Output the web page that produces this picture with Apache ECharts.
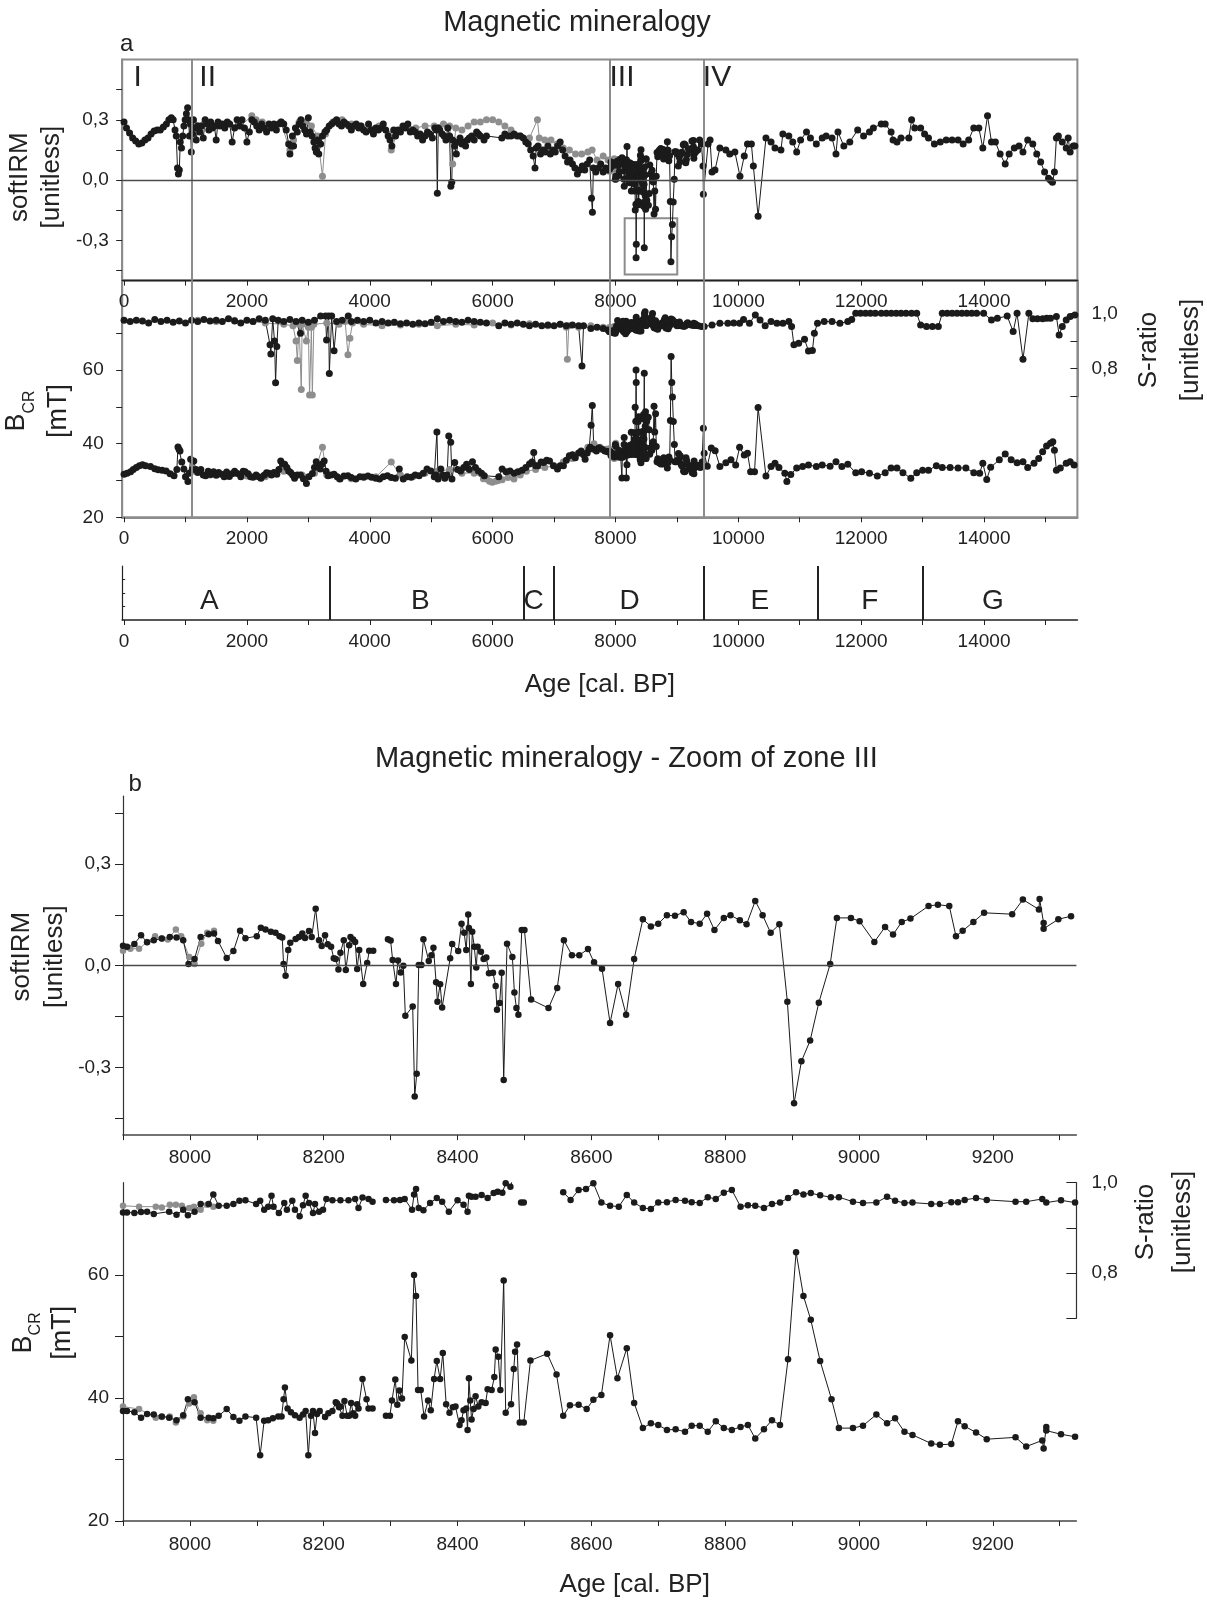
<!DOCTYPE html>
<html><head><meta charset="utf-8">
<script src="https://cdn.jsdelivr.net/npm/echarts@6/dist/echarts.min.js"></script>
<style>html,body{margin:0;padding:0;background:#fff}#c{width:1207px;height:1600px}</style>
</head><body><div id="c"></div>
<script>
// ---------------- DATA ----------------
// Panel a: softIRM (0 - 7900 cal BP), black and gray cores
const softA_black = [[0,0.29],[40,0.26],[90,0.235],[140,0.21],[190,0.195],[240,0.18],[290,0.185],[340,0.2],[390,0.21],[440,0.23],[490,0.245],[540,0.25],[590,0.25],[640,0.265],[690,0.28],[730,0.3],[770,0.31],[800,0.3],[830,0.25],[850,0.22],[870,0.06],[885,0.03],[900,0.05],[915,0.19],[935,0.16],[955,0.22],[975,0.27],[995,0.3],[1015,0.33],[1035,0.36],[1050,0.3],[1065,0.22],[1080,0.28],[1095,0.14],[1110,0.23],[1130,0.3],[1150,0.26],[1175,0.2],[1200,0.27],[1230,0.24],[1260,0.27],[1290,0.21],[1320,0.3],[1350,0.28],[1380,0.25],[1410,0.29],[1440,0.26],[1470,0.27],[1500,0.2],[1530,0.29],[1560,0.27],[1600,0.28],[1640,0.26],[1680,0.29],[1720,0.28],[1760,0.19],[1800,0.26],[1840,0.3],[1880,0.27],[1920,0.3],[1960,0.26],[2000,0.19],[2040,0.24],[2080,0.3],[2120,0.29],[2160,0.27],[2200,0.25],[2240,0.28],[2280,0.26],[2320,0.24],[2360,0.28],[2400,0.26],[2440,0.28],[2480,0.25],[2520,0.28],[2560,0.29],[2600,0.28],[2640,0.25],[2680,0.18],[2700,0.13],[2720,0.17],[2740,0.22],[2760,0.17],[2790,0.26],[2820,0.24],[2850,0.28],[2880,0.3],[2910,0.27],[2940,0.25],[2970,0.23],[3000,0.31],[3030,0.24],[3060,0.22],[3090,0.19],[3110,0.16],[3130,0.14],[3150,0.2],[3170,0.13],[3200,0.18],[3230,0.22],[3270,0.24],[3300,0.25],[3340,0.27],[3380,0.28],[3420,0.29],[3460,0.3],[3500,0.28],[3540,0.27],[3580,0.29],[3620,0.28],[3660,0.27],[3700,0.25],[3740,0.27],[3780,0.28],[3820,0.26],[3860,0.27],[3900,0.25],[3940,0.24],[3980,0.28],[4020,0.25],[4060,0.23],[4100,0.26],[4140,0.25],[4180,0.26],[4220,0.28],[4260,0.25],[4300,0.22],[4330,0.2],[4360,0.17],[4390,0.25],[4420,0.22],[4460,0.25],[4500,0.24],[4540,0.27],[4580,0.26],[4620,0.28],[4660,0.24],[4700,0.25],[4740,0.24],[4780,0.22],[4820,0.23],[4860,0.2],[4900,0.22],[4940,0.24],[4980,0.23],[5020,0.21],[5060,0.26],[5085,0.25],[5100,-0.065],[5115,0.26],[5140,0.25],[5180,0.23],[5210,0.22],[5240,0.2],[5270,0.26],[5300,0.22],[5320,-0.03],[5335,-0.01],[5350,0.2],[5380,0.17],[5410,0.13],[5440,0.19],[5470,0.21],[5500,0.18],[5530,0.19],[5560,0.17],[5590,0.2],[5620,0.21],[5660,0.22],[5700,0.2],[5740,0.24],[5770,0.23],[5800,0.22],[5860,0.2],[5900,0.22],[6150,0.21],[6200,0.23],[6250,0.22],[6300,0.22],[6350,0.23],[6400,0.22],[6450,0.22],[6500,0.21],[6540,0.19],[6580,0.18],[6620,0.15],[6660,0.12],[6690,0.06],[6710,0.16],[6740,0.17],[6780,0.13],[6820,0.15],[6860,0.14],[6900,0.17],[6940,0.13],[6980,0.15],[7020,0.14],[7060,0.17],[7100,0.19],[7140,0.15],[7180,0.12],[7220,0.09],[7260,0.1],[7300,0.08],[7340,0.06],[7380,0.03],[7420,0.05],[7460,0.07],[7500,0.05],[7540,0.08],[7580,0.1],[7610,-0.09],[7625,-0.16],[7640,0.06],[7680,0.04],[7720,0.06],[7760,0.08],[7800,0.04],[7840,0.06],[7880,0.05]];
const softA_gray = [[1130,0.29],[1300,0.28],[1500,0.27],[1700,0.28],[1900,0.27],[2080,0.32],[2150,0.3],[2250,0.29],[2400,0.27],[2550,0.29],[2700,0.15],[2760,0.2],[2850,0.29],[2950,0.29],[3050,0.27],[3150,0.22],[3230,0.02],[3280,0.23],[3400,0.29],[3550,0.3],[3700,0.28],[3850,0.27],[4000,0.26],[4150,0.27],[4300,0.23],[4350,0.15],[4450,0.24],[4600,0.27],[4750,0.26],[4900,0.27],[5050,0.27],[5200,0.28],[5300,0.27],[5350,0.08],[5400,0.26],[5500,0.25],[5600,0.27],[5700,0.29],[5800,0.29],[5900,0.3],[6000,0.3],[6100,0.29],[6200,0.27],[6300,0.25],[6450,0.22],[6600,0.21],[6730,0.3],[6760,0.21],[6850,0.2],[6950,0.2],[7050,0.18],[7150,0.16],[7250,0.15],[7350,0.13],[7450,0.13],[7550,0.14],[7620,0.15],[7700,0.1],[7800,0.12],[7880,0.1]];
// Panel a: softIRM after zone III (9325 - 15500)
const softA_late = [[9340,0.15],[9370,0.2],[9400,0.18],[9425,0.07],[9431,-0.07],[9508,0.18],[9540,0.2],[9572,0.04],[9620,0.05],[9700,0.16],[9797,0.15],[9860,0.13],[9944,0.14],[10027,0.02],[10097,0.12],[10149,0.18],[10213,0.18],[10245,0.07],[10322,-0.18],[10450,0.21],[10533,0.19],[10597,0.16],[10694,0.15],[10725,0.23],[10822,0.22],[10886,0.19],[10950,0.14],[11014,0.2],[11110,0.24],[11174,0.21],[11270,0.18],[11366,0.21],[11430,0.22],[11526,0.21],[11590,0.13],[11622,0.24],[11718,0.17],[11815,0.19],[11943,0.25],[12039,0.22],[12135,0.24],[12199,0.26],[12327,0.28],[12391,0.28],[12487,0.24],[12519,0.2],[12583,0.19],[12648,0.21],[12776,0.21],[12821,0.3],[12872,0.26],[12968,0.26],[13032,0.23],[13096,0.21],[13192,0.18],[13288,0.19],[13384,0.2],[13480,0.2],[13577,0.2],[13660,0.18],[13750,0.2],[13833,0.26],[13916,0.26],[13980,0.16],[14057,0.32],[14121,0.19],[14185,0.19],[14262,0.13],[14345,0.08],[14409,0.13],[14493,0.16],[14570,0.17],[14634,0.14],[14711,0.2],[14794,0.18],[14858,0.13],[14922,0.09],[14986,0.04],[15050,0.01],[15082,0],[15114,-0.01],[15146,0.04],[15178,0.21],[15210,0.22],[15274,0.19],[15338,0.16],[15370,0.21],[15402,0.14],[15453,0.17],[15479,0.17]];

// Panel a: B_CR [mT]
const bcrA_black = [[0,31.7],[50,32],[107,32.4],[150,33],[200,33.5],[250,34],[300,34.3],[350,34],[430,33.8],[500,33.2],[556,32.9],[620,32.8],[685,32.6],[750,31.8],[814,31.3],[860,33],[878,39.1],[895,38.5],[911,38],[940,35],[974,33.1],[1000,31],[1040,29.7],[1060,32],[1084,35.8],[1110,33],[1135,35.3],[1170,33],[1200,32.2],[1250,33],[1290,31.5],[1328,31.3],[1370,32.5],[1410,31.6],[1457,32.4],[1500,31.4],[1540,32.2],[1586,31.7],[1630,31],[1670,32.3],[1714,31.1],[1760,31.8],[1800,32.5],[1843,31.9],[1900,31],[1940,32.5],[1972,32.4],[2020,31.8],[2060,31],[2100,30.9],[2150,31.5],[2190,31],[2229,30.6],[2280,31.4],[2320,32.1],[2358,32],[2400,31.5],[2440,32.2],[2487,31.7],[2520,33],[2551,35.3],[2580,34.5],[2615,34.4],[2650,33.5],[2680,32.6],[2712,32.2],[2745,31.5],[2776,30.6],[2820,31.5],[2872,31.5],[2920,30.5],[2969,29.2],[3010,31],[3065,31.9],[3100,33.5],[3129,35.1],[3160,33.8],[3194,33.1],[3225,34.5],[3258,35.3],[3290,32.5],[3323,31.3],[3370,31.5],[3419,31.7],[3470,31],[3516,30.4],[3580,31.2],[3645,31.3],[3700,30.8],[3773,30.4],[3840,31],[3902,30.9],[3970,31.2],[4031,30.9],[4100,30.6],[4160,30.4],[4220,31],[4288,31.3],[4350,30.8],[4417,30.6],[4481,33.1],[4546,30.4],[4610,31],[4674,30.9],[4740,31.5],[4803,31.3],[4870,32],[4932,33.1],[4996,32.6],[5050,31],[5080,31.5],[5093,43.2],[5112,30.4],[5157,33.1],[5190,31.5],[5222,30.6],[5260,31.5],[5286,42.1],[5318,40.4],[5338,30.4],[5383,34.9],[5430,33],[5479,32.6],[5530,33.5],[5576,34.4],[5620,33],[5672,35.1],[5720,33.5],[5769,32.6],[5820,32],[5865,31.3],[6100,31],[6155,33.1],[6220,32.4],[6283,32.6],[6350,32],[6412,32.4],[6480,32.8],[6541,33.5],[6600,34.5],[6640,35],[6670,37.6],[6700,34],[6734,34],[6790,35],[6831,34.9],[6880,35.5],[6927,35.3],[6990,34],[7056,33.1],[7100,34],[7153,34],[7200,35.5],[7249,36.7],[7300,37],[7346,36.2],[7400,37.5],[7442,38],[7480,37],[7506,35.8],[7540,37.5],[7571,38.5],[7590,39],[7603,45],[7623,50.4],[7648,38.5],[7690,38],[7732,38.9],[7780,38.5],[7828,38],[7870,37.8]];
const bcrA_gray = [[1150,32.5],[1400,31.5],[1700,31.5],[2000,31.2],[2300,31],[2600,32.5],[2900,31.5],[3100,32],[3230,39],[3300,31.5],[3500,30.5],[3700,30.5],[3900,31],[4100,31],[4350,35],[4500,31.5],[4700,31],[4900,32],[5100,32.5],[5300,33],[5500,32],[5700,32],[5850,30.5],[5900,30.4],[5950,29.8],[5994,29.5],[6050,29.8],[6090,30],[6155,30.2],[6250,30.8],[6348,30.4],[6450,31.5],[6550,32.5],[6700,33],[6850,33.5],[7000,34],[7150,35],[7300,36],[7450,37.5],[7550,39],[7650,40],[7750,39],[7850,38.5]];
const bcrA_late = [[9340,34],[9380,33.5],[9410,35],[9431,44.2],[9444,37.4],[9495,33.9],[9560,38.8],[9623,38.1],[9700,33.8],[9797,34.8],[9880,35.6],[9957,34.2],[10021,39],[10097,36.9],[10149,37.4],[10200,32.4],[10264,32.4],[10322,49.8],[10450,31.2],[10533,33.8],[10597,34.7],[10661,33.5],[10757,32],[10790,29.7],[10854,31.6],[10950,33.4],[11046,33.8],[11142,34.2],[11270,33.8],[11366,34.2],[11494,33.9],[11590,35.1],[11686,33.8],[11782,34.4],[11911,32.1],[12007,32.4],[12135,32],[12263,31.2],[12391,32.1],[12487,33.4],[12583,33.4],[12680,32.1],[12808,30.6],[12904,32.1],[13000,32.8],[13096,32.8],[13224,34],[13320,33.5],[13448,33.5],[13577,33.4],[13705,33.4],[13833,32.1],[13929,32],[13980,34.7],[14044,30.3],[14108,33.6],[14249,35.6],[14345,37.2],[14442,35.6],[14538,34.8],[14634,35.1],[14711,33.5],[14813,34.7],[14890,36],[14954,37.8],[15018,39.4],[15082,40.1],[15120,40.5],[15146,38.2],[15178,32.8],[15242,33.4],[15338,34.7],[15402,35.1],[15466,34.2]];

// Panel a: S-ratio
const sA_black = [[0,0.975],[100,0.97],[200,0.975],[300,0.972],[400,0.965],[500,0.978],[600,0.97],[700,0.975],[800,0.968],[900,0.972],[1000,0.965],[1100,0.975],[1200,0.97],[1300,0.978],[1400,0.972],[1500,0.975],[1600,0.97],[1700,0.98],[1800,0.972],[1900,0.965],[2000,0.975],[2100,0.97],[2200,0.98],[2300,0.975],[2377,0.886],[2390,0.853],[2420,0.98],[2450,0.9],[2467,0.749],[2487,0.88],[2510,0.975],[2600,0.97],[2700,0.978],[2800,0.97],[2872,0.928],[2900,0.975],[3000,0.968],[3100,0.975],[3200,0.99],[3280,0.99],[3297,0.904],[3330,0.99],[3342,0.783],[3380,0.99],[3419,0.865],[3460,0.97],[3550,0.975],[3650,0.99],[3700,0.97],[3800,0.975],[3900,0.97],[4000,0.975],[4100,0.965],[4200,0.97],[4300,0.965],[4400,0.968],[4500,0.962],[4600,0.965],[4700,0.96],[4800,0.965],[4900,0.962],[5000,0.968],[5100,0.98],[5200,0.97],[5300,0.975],[5400,0.97],[5500,0.968],[5600,0.975],[5700,0.97],[5800,0.968],[5900,0.965],[6100,0.955],[6200,0.965],[6300,0.96],[6400,0.965],[6500,0.96],[6600,0.955],[6700,0.96],[6800,0.955],[6900,0.958],[7000,0.955],[7100,0.96],[7200,0.955],[7300,0.958],[7400,0.955],[7455,0.81],[7480,0.955],[7600,0.945],[7700,0.95],[7800,0.945],[7880,0.94]];
const sA_gray = [[1200,0.975],[1500,0.97],[1800,0.975],[2100,0.97],[2300,0.965],[2600,0.96],[2750,0.955],[2800,0.9],[2821,0.83],[2850,0.96],[2885,0.725],[2900,0.96],[2969,0.9],[3000,0.95],[3020,0.705],[3050,0.95],[3065,0.705],[3090,0.96],[3300,0.965],[3500,0.96],[3600,0.97],[3645,0.85],[3677,0.91],[3720,0.965],[3900,0.96],[4200,0.955],[4500,0.958],[4800,0.96],[5100,0.955],[5400,0.96],[5700,0.958],[6000,0.965],[6300,0.958],[6600,0.962],[6900,0.955],[7100,0.96],[7200,0.95],[7217,0.834],[7240,0.955],[7400,0.95],[7600,0.955],[7800,0.95]];
const sA_late = [[9350,0.955],[9400,0.952],[9444,0.952],[9572,0.958],[9700,0.964],[9829,0.964],[9925,0.965],[10021,0.964],[10085,0.978],[10181,0.964],[10277,0.994],[10354,0.976],[10437,0.955],[10533,0.97],[10629,0.964],[10725,0.964],[10822,0.97],[10867,0.952],[10905,0.886],[10982,0.892],[11078,0.906],[11142,0.864],[11206,0.866],[11238,0.928],[11289,0.964],[11398,0.97],[11526,0.97],[11654,0.964],[11782,0.97],[11846,0.978],[11911,1.0],[11990,1.0],[12071,1.0],[12150,1.0],[12230,1.0],[12327,1.0],[12410,1.0],[12490,1.0],[12570,1.0],[12648,1.0],[12730,1.0],[12820,1.0],[12904,1.0],[12968,0.958],[13064,0.952],[13160,0.952],[13256,0.952],[13320,1.0],[13400,1.0],[13480,1.0],[13560,1.0],[13640,1.0],[13720,1.0],[13800,1.0],[13880,1.0],[13993,1.0],[14121,0.976],[14217,0.982],[14377,0.99],[14474,0.934],[14538,1.0],[14634,0.834],[14730,1.0],[14794,0.98],[14870,0.98],[14954,0.98],[15020,0.982],[15082,0.982],[15178,0.988],[15223,0.922],[15274,0.952],[15338,0.976],[15402,0.988],[15479,0.994]];

// Panel b (zoom of zone III): softIRM
const softB_black = [[7900,0.059],[7906,0.056],[7917,0.064],[7927,0.09],[7936,0.069],[7946,0.075],[7958,0.08],[7970,0.085],[7980,0.083],[7990,0.075],[7998,0.005],[8007,0.02],[8016,0.085],[8028,0.093],[8036,0.095],[8042,0.073],[8055,0.023],[8065,0.043],[8075,0.103],[8083,0.081],[8100,0.087],[8106,0.112],[8113,0.107],[8121,0.1],[8128,0.097],[8134,0.087],[8138,0.083],[8140,0.005],[8143,-0.03],[8147,0.046],[8150,0.068],[8158,0.079],[8163,0.085],[8168,0.095],[8172,0.082],[8178,0.102],[8182,0.085],[8188,0.168],[8193,0.075],[8197,0.058],[8202,0.09],[8206,0.063],[8211,0.056],[8215,0.022],[8218,0.02],[8222,-0.011],[8225,0.038],[8230,0.075],[8233,-0.013],[8238,0.06],[8240,0.085],[8244,0.077],[8247,0.07],[8250,-0.01],[8253,0.046],[8259,-0.054],[8265,0.008],[8268,0.044],[8274,0.044],[8285,null],[8296,0.078],[8300,0.074],[8303,0.017],[8308,-0.054],[8311,0.015],[8315,-0.02],[8319,0],[8322,-0.148],[8333,-0.12],[8336,-0.386],[8339,-0.319],[8342,0.002],[8346,0.002],[8349,0.078],[8357,0.014],[8361,0.031],[8364,0.053],[8368,-0.049],[8370,-0.106],[8374,-0.055],[8377,-0.123],[8389,0.022],[8392,0.064],[8401,0.043],[8406,0.124],[8410,0.097],[8413,0.046],[8416,0.151],[8417,0.111],[8420,-0.054],[8422,0.1],[8425,0.056],[8428,-0.005],[8430,0.056],[8435,0.041],[8439,0.02],[8443,0.024],[8447,-0.022],[8453,-0.021],[8457,-0.06],[8459,-0.13],[8463,-0.11],[8466,-0.021],[8469,-0.337],[8474,0.065],[8482,0.026],[8485,-0.079],[8488,-0.125],[8491,-0.145],[8496,0.105],[8500,0.105],[8510,-0.1],[8536,-0.125],[8549,-0.066],[8559,0.075],[8571,0.031],[8582,0.031],[8595,0.049],[8604,0.01],[8616,-0.009],[8628,-0.169],[8640,-0.054],[8652,-0.145],[8664,0.02],[8677,0.137],[8689,0.116],[8700,0.124],[8713,0.149],[8725,0.147],[8738,0.158],[8749,0.129],[8762,0.124],[8773,0.153],[8784,0.105],[8798,0.141],[8808,0.149],[8822,0.134],[8832,0.122],[8845,0.191],[8856,0.149],[8868,0.097],[8881,0.122],[8893,-0.106],[8903,-0.406],[8914,-0.282],[8927,-0.221],[8940,-0.109],[8957,0.005],[8967,0.141],[8988,0.141],[9001,0.131],[9023,0.07],[9039,0.114],[9051,0.092],[9064,0.129],[9077,0.139],[9104,0.176],[9118,0.18],[9135,0.176],[9145,0.087],[9155,0.103],[9171,0.129],[9187,0.156],[9229,0.152],[9245,0.195],[9269,0.166],[9270,0.197],[9276,0.126],[9276,0.109],[9298,0.137],[9317,0.146]];
const softB_gray = [[7900,0.044],[7911,0.05],[7924,0.05],[7936,0.07],[7948,0.087],[7958,0.08],[7967,0.077],[7979,0.107],[7987,0.087],[7999,0.026],[8007,0.005],[8017,0.065],[8026,0.097],[8036,0.103]];
// Panel b: B_CR
const bcrB_black = [[7900,37.9],[7906,37.9],[7917,37.7],[7927,36.8],[7936,37.4],[7946,37.3],[7958,37],[7969,36.8],[7980,36.4],[7990,37.2],[7997,39.8],[8007,39.3],[8016,36.8],[8028,36.8],[8035,36.7],[8043,37.1],[8055,38.2],[8065,36.9],[8074,36.3],[8083,37],[8099,36.8],[8105,30.7],[8111,36.3],[8117,36.4],[8124,36.7],[8132,37],[8137,37],[8140,39.8],[8142,41.7],[8146,38.3],[8151,37.7],[8157,37.2],[8164,36.8],[8169,37.3],[8173,37.9],[8177,30.7],[8181,37.1],[8184,37.9],[8187,34.3],[8190,37.4],[8194,37.9],[8202,36.9],[8207,37.5],[8213,37.9],[8218,39.3],[8220,39.1],[8223,38.5],[8225,38.6],[8228,37.1],[8231,39.5],[8235,37.1],[8238,37.1],[8241,39.2],[8244,37.5],[8247,37.1],[8250,39],[8252,38.3],[8258,43.1],[8264,39.8],[8267,38.3],[8273,38.3],[8285,null],[8293,37.1],[8299,37.1],[8302,39.6],[8307,43],[8310,38.9],[8313,41.2],[8317,39.9],[8321,49.9],[8331,46.1],[8335,60],[8338,56.6],[8341,41.3],[8345,41.3],[8350,37],[8356,39.6],[8360,38],[8365,43.1],[8369,46],[8374,43.1],[8378,47.3],[8383,39],[8388,37.6],[8393,38.5],[8397,38.6],[8403,35.6],[8406,36.4],[8409,38],[8413,38.3],[8415,34.8],[8417,43.2],[8419,39.6],[8421,36.5],[8424,38.2],[8427,40.3],[8431,38.6],[8436,39.3],[8442,39.2],[8445,41.4],[8451,41.3],[8455,43.4],[8457,47.9],[8461,46.7],[8464,41.3],[8469,59.1],[8472,37.6],[8480,39],[8484,44.7],[8486,47.5],[8489,48.7],[8493,36],[8499,36],[8509,46.1],[8534,47.2],[8548,43.8],[8558,37.1],[8568,38.8],[8581,38.9],[8593,38.2],[8603,39.7],[8615,40.5],[8628,50.2],[8639,43.2],[8653,48.1],[8664,39.2],[8677,35.1],[8689,35.9],[8700,35.6],[8713,34.8],[8726,34.9],[8740,34.5],[8750,35.5],[8762,35.5],[8774,34.5],[8786,36.2],[8798,35.1],[8810,34.8],[8823,35.3],[8834,35.6],[8845,33.4],[8858,34.9],[8870,36.4],[8882,35.6],[8894,46.3],[8906,63.7],[8917,56.6],[8928,52.7],[8942,46],[8959,39.8],[8970,35.1],[8991,35.1],[9006,35.5],[9026,37.3],[9042,35.9],[9054,36.7],[9068,34.5],[9080,34],[9108,32.6],[9121,32.4],[9138,32.5],[9148,36.2],[9158,35.4],[9175,34.4],[9191,33.3],[9234,33.6],[9250,32.1],[9274,33.1],[9276,31.8],[9280,35.3],[9280,34.7],[9302,34.1],[9323,33.7],[9336,34.1]];
const bcrB_gray = [[7900,38.6],[7924,38.2],[7949,36.8],[7958,36.9],[7970,37],[7979,36],[7990,37],[7999,39.1],[8006,40.1],[8016,37.5],[8026,36.4],[8035,36.3]];
// Panel b: S-ratio
const sB_black = [[7900,0.934],[7906,0.934],[7917,0.933],[7927,0.935],[7936,0.936],[7946,0.931],[7969,0.936],[7980,0.929],[7990,0.94],[7997,0.928],[8007,0.936],[8016,0.953],[8028,0.953],[8035,0.974],[8043,0.949],[8055,0.949],[8065,0.953],[8074,0.96],[8083,0.961],[8099,0.953],[8105,0.96],[8111,0.94],[8117,0.947],[8122,0.971],[8125,0.947],[8133,0.933],[8141,0.955],[8145,0.94],[8153,0.96],[8157,0.94],[8164,0.926],[8169,0.95],[8173,0.971],[8178,0.955],[8184,0.933],[8187,0.953],[8193,0.936],[8199,0.94],[8204,0.964],[8213,0.961],[8225,0.961],[8237,0.961],[8247,0.964],[8252,0.944],[8258,0.967],[8267,0.964],[8273,0.958],[8285,null],[8293,0.962],[8305,0.961],[8314,0.962],[8321,0.964],[8332,0.94],[8335,0.974],[8338,0.986],[8342,0.944],[8349,0.939],[8359,0.955],[8369,0.966],[8377,0.958],[8387,0.936],[8400,0.961],[8409,0.951],[8415,0.936],[8417,0.971],[8421,0.969],[8427,0.969],[8436,0.973],[8445,0.966],[8454,0.977],[8460,0.98],[8467,0.978],[8472,0.999],[8479,0.991],[8482,1.006],[8490,null],[8495,0.956],[8499,0.956],[8530,null],[8558,0.979],[8569,0.962],[8581,0.984],[8592,0.986],[8603,0.999],[8615,0.956],[8628,0.949],[8641,0.947],[8653,0.973],[8664,0.956],[8677,0.944],[8689,0.942],[8700,0.956],[8713,0.957],[8726,0.962],[8740,0.96],[8750,0.957],[8762,0.955],[8774,0.968],[8786,0.964],[8798,0.978],[8810,0.984],[8823,0.947],[8834,0.95],[8845,0.949],[8858,0.944],[8870,0.953],[8882,0.956],[8894,0.966],[8906,0.979],[8917,0.974],[8928,0.977],[8942,0.972],[8958,0.968],[8970,0.968],[8991,0.958],[9006,0.955],[9026,0.956],[9042,0.969],[9054,0.96],[9068,0.955],[9080,0.956],[9108,0.953],[9121,0.953],[9138,0.957],[9148,0.957],[9158,0.962],[9175,0.966],[9191,0.962],[9234,0.958],[9250,0.958],[9274,0.964],[9280,0.956],[9302,0.961],[9323,0.956]];
const sB_gray = [[7900,0.949],[7924,0.947],[7949,0.947],[7958,0.945],[7970,0.951],[7979,0.951],[7988,0.949],[7999,0.944],[8006,0.947],[8016,0.94],[8026,0.951],[8035,0.947]];

// Zones
const unitBoundaries = [1100, 7907, 9430];
const unitLabels = ['I', 'II', 'III', 'IV'];
const unitLabelAges = [223, 1361, 8107, 9653];
const insetBox = [8150, -0.19, 9006, -0.47];
const zoneBoundaries = [3350, 6500, 7000, 9430, 11300, 13000];
const zoneLetters = ['A', 'B', 'C', 'D', 'E', 'F', 'G'];
const zoneLetterAges = [1390, 4824, 6666, 8232, 10350, 12142, 14146];

// Ticks / labels
const xTicksA = [0,1000,2000,3000,4000,5000,6000,7000,8000,9000,10000,11000,12000,13000,14000,15000];
const xLabelsA = [0,2000,4000,6000,8000,10000,12000,14000];
const xTicksB = [7900,8000,8100,8200,8300,8400,8500,8600,8700,8800,8900,9000,9100,9200,9300];
const xLabelsB = [8000,8200,8400,8600,8800,9000,9200];
const softTicks = [-0.45,-0.3,-0.15,0,0.15,0.3,0.45];
const softLabels = [-0.3,0,0.3];
const bcrTicksA = [20,30,40,50,60,70];
const bcrTicksB = [20,30,40,50,60];
const bcrLabels = [20,40,60];
const sTicks = [0.7,0.8,0.9,1.0];
const sLabels = [0.8,1.0];

// ---------------- CHART ----------------
const F = "'Liberation Sans', Arial, Helvetica, sans-serif";
const BLACK = '#1b1b1b', GRAY = '#8e8e8e', FRAME = '#8c8c8c', INK = '#222';
const comma = v => v.toFixed(1).replace('.', ',');
const plain = v => String(v);

function ln(data, xi, yi, color, size, extra) {
  return Object.assign({
    type: 'line', data: data, xAxisIndex: xi, yAxisIndex: yi,
    symbol: 'circle', symbolSize: size, showSymbol: true, showAllSymbol: true,
    connectNulls: false, clip: true, animation: false, silent: true,
    itemStyle: { color: color }, lineStyle: { color: color, width: 1 }
  }, extra || {});
}
function lblStyle(custom, fmt, margin, extra) {
  return Object.assign({ customValues: custom, formatter: fmt, margin: margin, fontSize: 19, color: INK, fontFamily: F }, extra || {});
}
function xAx(grid, min, max, ticks, labels, lineColor, lineWidth, extra) {
  return Object.assign({
    type: 'value', gridIndex: grid, min: min, max: max,
    axisLine: { show: true, onZero: false, lineStyle: { color: lineColor, width: lineWidth } },
    axisTick: { show: true, customValues: ticks, length: 5, lineStyle: { color: INK, width: 1 } },
    axisLabel: lblStyle(labels, plain, 12),
    splitLine: { show: false }
  }, extra || {});
}
const hiddenX = (grid, min, max) => ({ type: 'value', gridIndex: grid, min: min, max: max, show: false });

const vlines = unitBoundaries.map(v => ({ xAxis: v }));
const zoneMark = {
  silent: true, symbol: ['none', 'none'], label: { show: false },
  lineStyle: { color: FRAME, width: 2, type: 'solid' }, animation: false
};
function textSeries(xi, yi, names, ages, yVal, size) {
  return {
    type: 'scatter', xAxisIndex: xi, yAxisIndex: yi, symbol: 'circle', symbolSize: 1, silent: true,
    itemStyle: { color: 'rgba(255,255,255,0)' },
    data: names.map((t, i) => ({ value: [ages[i], yVal], name: t })),
    label: { show: true, position: 'inside', formatter: p => p.name, fontSize: size, color: INK, fontFamily: F, opacity: 1 },
    labelLayout: { hideOverlap: false }
  };
}

const option = {
  animation: false,
  backgroundColor: '#ffffff',
  textStyle: { fontFamily: F },
  grid: [
    { left: 122.2, top: 59.6, width: 955.2, height: 221, show: true, borderColor: FRAME, borderWidth: 2, containLabel: false, outerBoundsMode: 'none' },
    { left: 122.2, top: 280.6, width: 955.2, height: 236.7, show: true, borderColor: FRAME, borderWidth: 2, containLabel: false, outerBoundsMode: 'none' },
    { left: 122.2, top: 280.6, width: 955.2, height: 115.8, containLabel: false, outerBoundsMode: 'none' },
    { left: 122.2, top: 566, width: 955.2, height: 54, containLabel: false, outerBoundsMode: 'none' },
    { left: 123, top: 796.2, width: 953.4, height: 339, containLabel: false, outerBoundsMode: 'none' },
    { left: 123, top: 1182.7, width: 953.4, height: 338.3, containLabel: false, outerBoundsMode: 'none' },
    { left: 123, top: 1182.7, width: 953.4, height: 135.6, containLabel: false, outerBoundsMode: 'none' }
  ],
  xAxis: [
    xAx(0, -30, 15520, xTicksA, xLabelsA, INK, 1.3),
    xAx(1, -30, 15520, xTicksA, xLabelsA, FRAME, 2.2),
    hiddenX(2, -30, 15520),
    xAx(3, -30, 15520, xTicksA, xLabelsA, INK, 1.6, {
      name: 'Age [cal. BP]', nameLocation: 'middle', nameGap: 52,
      nameTextStyle: { fontSize: 26, color: INK, fontFamily: F }
    }),
    xAx(4, 7900, 9325, xTicksB, xLabelsB, '#444', 1.5, { axisLabel: lblStyle(xLabelsB, plain, 13.5) }),
    xAx(5, 7900, 9325, xTicksB, xLabelsB, '#444', 1.5, {
      axisLabel: lblStyle(xLabelsB, plain, 14.5),
      name: 'Age [cal. BP]', nameLocation: 'middle', nameGap: 51,
      nameTextStyle: { fontSize: 26, color: INK, fontFamily: F, padding: [0, 0, 0, 70] }
    }),
    hiddenX(6, 7900, 9325)
  ],
  yAxis: [
    { type: 'value', gridIndex: 0, min: -0.5, max: 0.6, splitLine: { show: false },
      axisLine: { show: true, onZero: false, lineStyle: { color: FRAME, width: 2 } },
      axisTick: { show: true, customValues: softTicks, length: 6, lineStyle: { color: INK } },
      axisLabel: lblStyle(softLabels, comma, 13.5),
      name: '{a|softIRM}\n{a|[unitless]}', nameLocation: 'middle', nameGap: 47,
      nameTextStyle: { padding: [0, 14, 0, 0], rich: { a: { fontSize: 26, lineHeight: 32, color: INK, fontFamily: F } } } },
    { type: 'value', gridIndex: 1, min: 20, max: 84.3, splitLine: { show: false },
      axisLine: { show: true, onZero: false, lineStyle: { color: FRAME, width: 2 } },
      axisTick: { show: true, customValues: bcrTicksA, length: 6, lineStyle: { color: INK } },
      axisLabel: lblStyle(bcrLabels, plain, 18.5),
      name: '{b|B}{s|CR}\n{b|[mT]}', nameLocation: 'middle', nameGap: 32,
      nameTextStyle: { padding: [0, 24, 0, 0], rich: {
        b: { fontSize: 27, lineHeight: 42, verticalAlign: 'middle', color: INK, fontFamily: F },
        s: { fontSize: 16, lineHeight: 29, verticalAlign: 'bottom', color: INK, fontFamily: F } } } },
    { type: 'value', gridIndex: 2, position: 'right', min: 0.7, max: 1.118, splitLine: { show: false },
      axisLine: { show: true, onZero: false, lineStyle: { color: FRAME, width: 2 } },
      axisTick: { show: true, inside: true, customValues: sTicks, length: 7, lineStyle: { color: INK } },
      axisLabel: lblStyle(sLabels, comma, 14),
      name: '{a|S-ratio}\n{a|[unitless]}', nameLocation: 'middle', nameGap: 50.6,
      nameTextStyle: { padding: [0, 23, 0, 0], rich: { a: { fontSize: 26, lineHeight: 42, color: INK, fontFamily: F } } } },
    { type: 'value', gridIndex: 3, min: 0, max: 4, splitLine: { show: false },
      axisLine: { show: true, onZero: false, lineStyle: { color: INK, width: 1.2 } },
      axisTick: { show: true, inside: true, customValues: [1, 2, 3], length: 3, lineStyle: { color: INK } },
      axisLabel: { show: false } },
    { type: 'value', gridIndex: 4, min: -0.5, max: 0.5, splitLine: { show: false },
      axisLine: { show: true, onZero: false, lineStyle: { color: '#333', width: 1.2 } },
      axisTick: { show: true, customValues: softTicks, length: 8, lineStyle: { color: INK } },
      axisLabel: lblStyle(softLabels, comma, 12),
      name: '{a|softIRM}\n{a|[unitless]}', nameLocation: 'middle', nameGap: 45.5,
      nameTextStyle: { padding: [0, 0, 0, 18], rich: { a: { fontSize: 26, lineHeight: 33, color: INK, fontFamily: F } } } },
    { type: 'value', gridIndex: 5, min: 20, max: 75, splitLine: { show: false },
      axisLine: { show: true, onZero: false, lineStyle: { color: '#333', width: 1.2 } },
      axisTick: { show: true, customValues: bcrTicksB, length: 8, lineStyle: { color: INK } },
      axisLabel: lblStyle(bcrLabels, plain, 14),
      name: '{b|B}{s|CR}\n{b|[mT]}', nameLocation: 'middle', nameGap: 40.5,
      nameTextStyle: { padding: [0, 0, 0, 38], rich: {
        b: { fontSize: 27, lineHeight: 39, verticalAlign: 'middle', color: INK, fontFamily: F },
        s: { fontSize: 16, lineHeight: 27, verticalAlign: 'bottom', color: INK, fontFamily: F } } } },
    { type: 'value', gridIndex: 6, position: 'right', min: 0.7, max: 1.0, splitLine: { show: false },
      axisLine: { show: true, onZero: false, lineStyle: { color: '#333', width: 1.2 } },
      axisTick: { show: true, inside: true, customValues: sTicks, length: 10, lineStyle: { color: INK } },
      axisLabel: lblStyle(sLabels, comma, 15),
      name: '{a|S-ratio}\n{a|[unitless]}', nameLocation: 'middle', nameGap: 51,
      nameTextStyle: { padding: [0, 0, 0, 57], rich: { a: { fontSize: 26, lineHeight: 37, color: INK, fontFamily: F } } } }
  ],
  series: [
    // ---- panel a : softIRM ----
    ln(softA_gray.concat(softB_gray), 0, 0, GRAY, 7, {
      markLine: Object.assign({}, zoneMark, { data: vlines.concat([{ yAxis: 0, lineStyle: { color: '#4a4a4a', width: 1.3 } }]) })
    }),
    ln(softA_black.concat(softB_black, softA_late), 0, 0, BLACK, 7, {
      markArea: { silent: true, label: { show: false },
        itemStyle: { color: 'rgba(0,0,0,0)', borderColor: FRAME, borderWidth: 2 },
        data: [[{ coord: [insetBox[0], insetBox[1]] }, { coord: [insetBox[2], insetBox[3]] }]] }
    }),
    textSeries(0, 0, unitLabels, unitLabelAges, 0.51, 30),
    // ---- panel a : B_CR ----
    ln(bcrA_gray.concat(bcrB_gray), 1, 1, GRAY, 7, {
      markLine: Object.assign({}, zoneMark, { data: vlines })
    }),
    ln(bcrA_black.concat(bcrB_black, bcrA_late), 1, 1, BLACK, 7),
    // ---- panel a : S-ratio ----
    ln(sA_gray.concat(sB_gray), 2, 2, GRAY, 7),
    ln(sA_black.concat(sB_black, sA_late), 2, 2, BLACK, 7),
    // ---- zone bar ----
    Object.assign(textSeries(3, 3, zoneLetters, zoneLetterAges, 1.36, 28), {
      markLine: { silent: true, symbol: ['none', 'none'], label: { show: false }, animation: false,
        lineStyle: { color: INK, width: 2, type: 'solid' },
        data: zoneBoundaries.map(v => ({ xAxis: v })) } }),
    // ---- panel b ----
    ln(softB_gray, 4, 4, GRAY, 6.5, {
      markLine: { silent: true, symbol: ['none', 'none'], label: { show: false }, animation: false,
        lineStyle: { color: '#4a4a4a', width: 1.3, type: 'solid' }, data: [{ yAxis: 0 }] }
    }),
    ln(softB_black, 4, 4, BLACK, 6.5),
    ln(bcrB_gray, 5, 5, GRAY, 6.5),
    ln(bcrB_black, 5, 5, BLACK, 6.5),
    ln(sB_gray, 6, 6, GRAY, 6.5),
    ln(sB_black, 6, 6, BLACK, 6.5)
  ],
  graphic: [
    { type: 'text', x: 577, y: 23.3, silent: true, style: { text: 'Magnetic mineralogy', fontSize: 29, fontFamily: F, fill: INK, align: 'center', verticalAlign: 'middle' } },
    { type: 'text', x: 120, y: 44.5, silent: true, style: { text: 'a', fontSize: 24, fontFamily: F, fill: INK, align: 'left', verticalAlign: 'middle' } },
    { type: 'text', x: 626.4, y: 759, silent: true, style: { text: 'Magnetic mineralogy - Zoom of zone III', fontSize: 29, fontFamily: F, fill: INK, align: 'center', verticalAlign: 'middle' } },
    { type: 'text', x: 128.5, y: 784.5, silent: true, style: { text: 'b', fontSize: 24, fontFamily: F, fill: INK, align: 'left', verticalAlign: 'middle' } }
  ]
};

const chart = echarts.init(document.getElementById('c'), null, { renderer: 'canvas', width: 1207, height: 1600 });
chart.setOption(option);
</script>
</body></html>
